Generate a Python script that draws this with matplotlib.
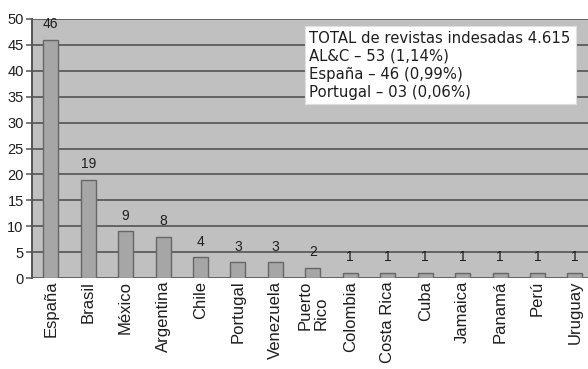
import matplotlib
matplotlib.use("Agg")
import matplotlib.pyplot as plt

PAISES = ["España", "Brasil", "México", "Argentina", "Chile", "Portugal",
          "Venezuela", "Puerto\nRico", "Colombia", "Costa Rica", "Cuba",
          "Jamaica", "Panamá", "Perú", "Uruguay"]
REVISTAS = [46, 19, 9, 8, 4, 3, 3, 2, 1, 1, 1, 1, 1, 1, 1]
Y_TICKS = [0, 5, 10, 15, 20, 25, 30, 35, 40, 45, 50]
RESUMEN = ["TOTAL de revistas indesadas 4.615",
           "AL&C – 53 (1,14%)",
           "España – 46 (0,99%)",
           "Portugal – 03 (0,06%)"]

BG = "#c0c0c0"
BAR = "#a6a6a6"
EDGE = "#666666"
GRID = "#636363"
INK = "#1e1e1e"


def main():
    fig = plt.figure(figsize=(5.88, 3.69), dpi=100)
    ax = fig.add_axes([32 / 588, 1 - 278 / 369, 1 - 32 / 588, 259 / 369])
    ax.set_facecolor(BG)

    x = list(range(len(PAISES)))
    ax.bar(x, REVISTAS, width=0.4, color=BAR, edgecolor=EDGE, linewidth=1.0, zorder=3)

    for xi, v in zip(x, REVISTAS):
        ax.annotate(str(v), (xi, v), xytext=(0, 6), textcoords="offset points",
                    ha="center", va="bottom", fontsize=10, color=INK,
                    family="Liberation Sans", zorder=4)

    ax.set_ylim(0, 50)
    ax.set_xlim(-0.5, 14.35)
    ax.set_yticks(Y_TICKS)
    ax.yaxis.grid(True, color=GRID, linewidth=1.4, zorder=1)
    ax.set_axisbelow(True)

    ax.set_xticks(x)
    ax.set_xticklabels(PAISES, rotation=90, fontsize=12, family="Liberation Sans",
                       multialignment="left", color=INK, linespacing=1.1)
    ax.tick_params(axis="x", length=0, pad=2)
    ax.tick_params(axis="y", length=4, width=1.2, color=GRID, labelsize=10.5,
                   labelcolor=INK, pad=2)
    for t in ax.get_yticklabels():
        t.set_family("Liberation Sans")

    for side in ["top", "right", "bottom"]:
        ax.spines[side].set_visible(False)
    ax.spines["left"].set_color("#555555")
    ax.spines["left"].set_linewidth(1.4)

    ax.text(0.499, 0.955, "\n".join(RESUMEN), transform=ax.transAxes,
            ha="left", va="top", fontsize=10.7, family="DejaVu Sans",
            color=INK, linespacing=1.25, zorder=5,
            bbox=dict(boxstyle="square,pad=0.32", facecolor="white",
                      edgecolor="#e0e0e0", linewidth=0.8))

    fig.savefig("out.png", dpi=100)


if __name__ == "__main__":
    main()
